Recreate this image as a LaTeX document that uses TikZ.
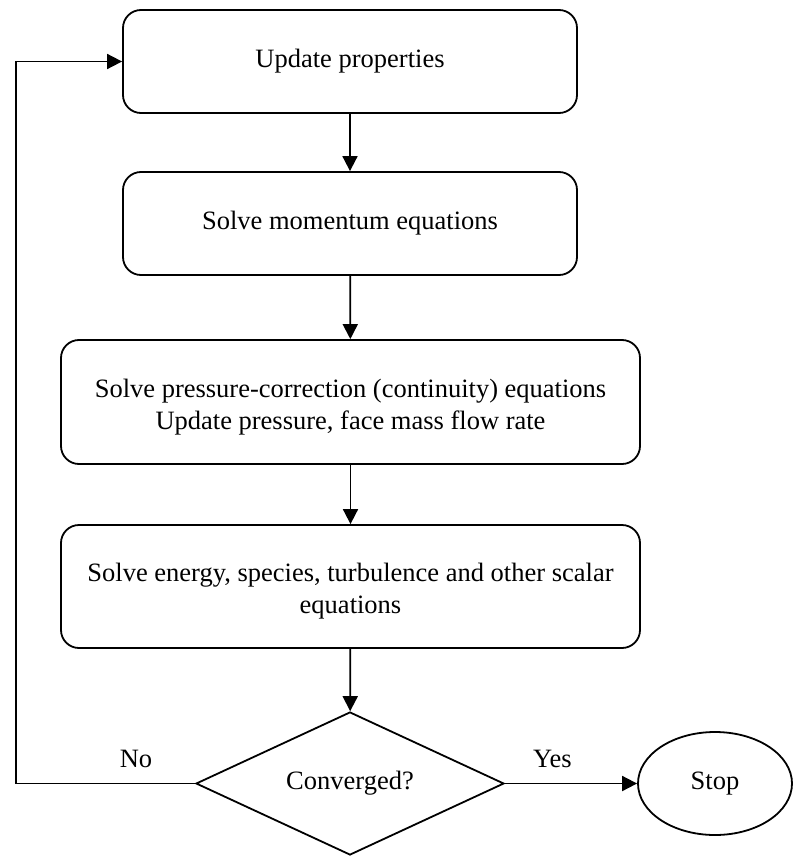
\documentclass[tikz,border=0pt]{standalone}
\usepackage{fontspec}
\setmainfont{Liberation Serif}
\usetikzlibrary{shapes.geometric,arrows.meta}
\begin{document}
\begin{tikzpicture}[x=1pt,y=-1pt,
  every node/.style={font=\fontsize{26.5}{32}\selectfont},
  stepbox/.style={draw,line width=1.8pt,rounded corners=18pt,align=center,inner sep=0pt},
  steptext/.style={align=center,inner sep=0pt,yshift=-5pt},
  flow/.style={line width=1.8pt,-{Triangle[length=15pt,width=15pt]}},
  plain/.style={line width=1.8pt}]
\useasboundingbox (0,0) rectangle (793,856);
\node[stepbox,minimum width=454pt,minimum height=103pt] (upd) at (350,61.5) {Update properties};
\node[stepbox,minimum width=454pt,minimum height=103pt] (mom) at (350,223.5) {Solve momentum equations};
\node[stepbox,minimum width=579pt,minimum height=124pt,
  label={[steptext]center:Solve pressure-correction (continuity) equations\\Update pressure, face mass flow rate}] (pc) at (350.5,402) {};
\node[stepbox,minimum width=579pt,minimum height=123pt,
  label={[steptext]center:Solve energy, species, turbulence and other scalar\\equations}] (en) at (350.5,586.5) {};
\node[draw,line width=1.8pt,diamond,aspect=2.15,minimum width=308pt,minimum height=143pt,inner sep=0pt] (conv) at (350,783.5) {Converged?};
\node[draw,line width=1.8pt,ellipse,minimum width=154pt,minimum height=103pt,inner sep=0pt] (stop) at (715,783.5) {Stop};
\coordinate (lb) at (16,783.5);
\coordinate (lt) at (16,61.5);
\draw[flow] (upd) -- (mom);
\draw[flow] (mom) -- (pc);
\draw[flow] (pc) -- (en);
\draw[flow] (en) -- (conv);
\draw[flow] (conv) -- node[above=12pt,pos=0.36] {Yes} (stop);
\draw[plain] (conv.west) -- node[above=12pt,pos=0.33] {No} (lb) -- (lt);
\draw[flow] (lt) -- (upd);
\end{tikzpicture}
\end{document}
